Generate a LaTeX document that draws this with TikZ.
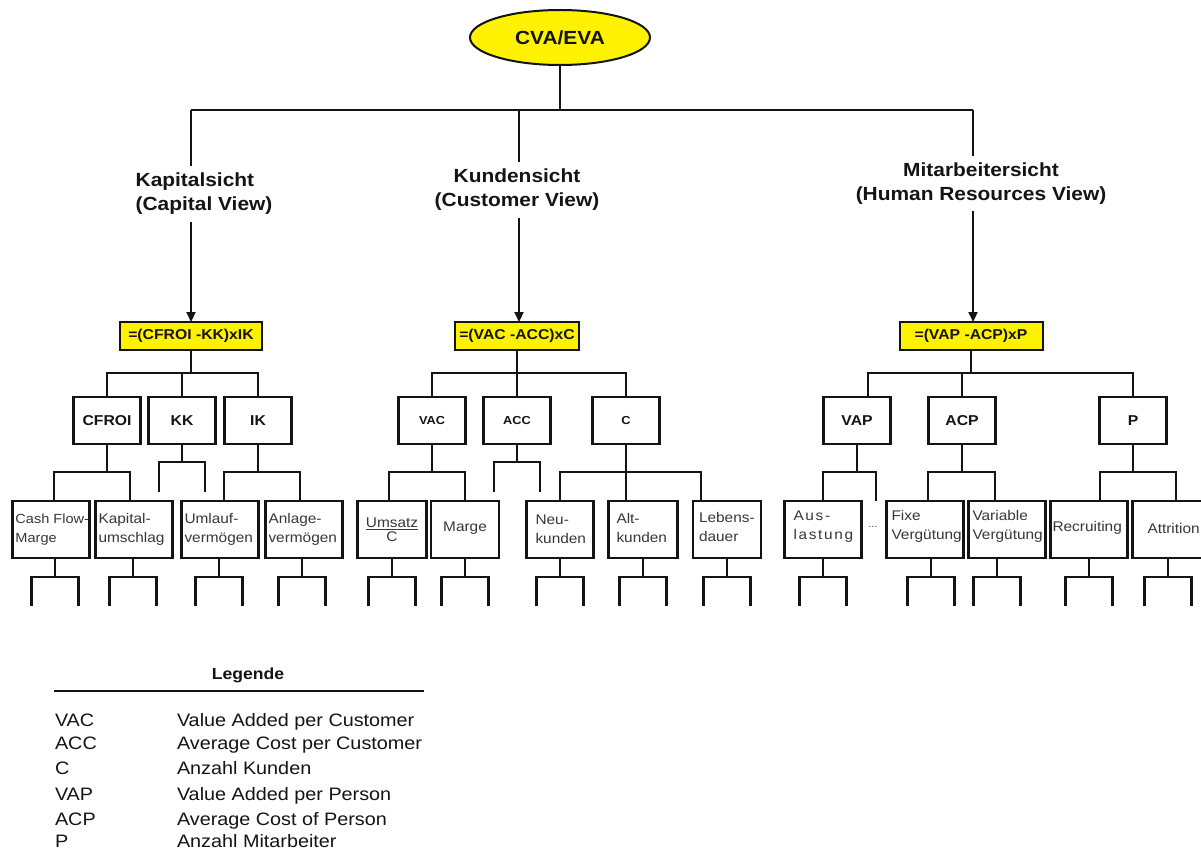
\documentclass[tikz,border=0pt]{standalone}
\usepackage{fontspec}
\setmainfont{Liberation Sans}[FakeStretch=1.1]
\usetikzlibrary{arrows.meta,shapes.geometric}

\definecolor{hlyellow}{RGB}{255,242,0}
\definecolor{ink}{RGB}{20,20,20}
\definecolor{leafink}{RGB}{55,55,55}

\newcommand\setfs[2]{\fontsize{#1}{#2}\selectfont}
% open fork hanging below a node: stem, bar and two open legs
\newcommand\openstub[2][0]{\draw[link] ([xshift=#1pt]#2.south) -- ++(0,19) ++(-23.5,29) -- ++(0,-29) -- ++(47,0) -- ++(0,29);}
\newcommand\openpair[1]{\draw[link] (#1.south) -- ++(0,18) ++(-23,30) -- ++(0,-30) -- ++(46,0) -- ++(0,30);}

\begin{document}
\begin{tikzpicture}[x=1pt,y=-1pt,
  every node/.style={inner sep=0pt, outer sep=0pt, text=ink},
  link/.style={draw=ink, line width=2.2pt, line join=miter},
  arrowline/.style={link, -{Triangle[length=10pt,width=9pt]}},
  rootnode/.style={ellipse, draw=ink, line width=2pt, fill=hlyellow, minimum width=180pt, minimum height=55pt, font=\setfs{19}{22}\bfseries},
  view/.style={inner ysep=7pt, font=\setfs{19}{24}\bfseries},
  formula/.style={draw=ink, fill=hlyellow, line width=2pt, minimum height=28pt, font=\setfs{14.3}{16}\bfseries},
  catbox/.style={draw=ink, line width=2.2pt, minimum width=67pt, minimum height=47pt, font=\setfs{14.3}{16}\bfseries},
  smallcat/.style={catbox, font=\setfs{11.6}{14}\bfseries},
  leaf/.style={draw=ink, line width=2.2pt, minimum width=77pt, minimum height=57pt},
  leaftext/.style={anchor=west, align=left, text=leafink, font=\setfs{14}{19}},
  legtext/.style={anchor=base west, font=\setfs{18}{20}},
]
\useasboundingbox (0,0) rectangle (1201,850);
\fill[white] (0,0) rectangle (1201,850);

% ---------- root and the three views ----------
\node[rootnode] (root) at (560,37.5) {CVA/EVA};
\coordinate (bar) at (560,110);
\coordinate (jl) at (191,110);
\coordinate (jm) at (519,110);
\coordinate (jr) at (973,110);
\draw[link] (root.south) -- (bar);
\draw[link] (jl) -- (jr);

\node[view, align=left]   (kap)  at (204,194)   {Kapitalsicht\\(Capital View)};
\node[view, align=center] (kun)  at (517,190)   {Kundensicht\\(Customer View)};
\node[view, align=center] (mit)  at (981,183.5) {Mitarbeitersicht\\(Human Resources View)};

\node[formula, minimum width=142pt] (f1) at (191,336) {=(CFROI -KK)xIK};
\node[formula, minimum width=124pt] (f2) at (517,336) {=(VAC -ACC)xC};
\node[formula, minimum width=143pt] (f3) at (971,336) {=(VAP -ACP)xP};

\draw[link] (jl) -- (jl |- kap.north);
\draw[link] (jm) -- (jm |- kun.north);
\draw[link] (jr) -- (jr |- mit.north);
\draw[arrowline] (jl |- kap.south) -- (f1.north -| jl);
\draw[arrowline] (jm |- kun.south) -- (f2.north -| jm);
\draw[arrowline] (jr |- mit.south) -- (f3.north -| jr);

% ---------- second level ----------
\node[catbox]   (cfroi) at (107,420.5) {CFROI};
\node[catbox]   (kk)    at (182,420.5) {KK};
\node[catbox]   (ik)    at (258,420.5) {IK};
\node[smallcat] (vac)   at (432,420.5) {VAC};
\node[smallcat] (acc)   at (517,420.5) {ACC};
\node[smallcat] (cc)    at (626,420.5) {C};
\node[catbox]   (vap)   at (857,420.5) {VAP};
\node[catbox]   (acp)   at (962,420.5) {ACP};
\node[catbox]   (pp)    at (1133,420.5) {P};

\draw[link] (f1.south) -- ++(0,23);
\draw[link] (cfroi.north) -- ++(0,-24) -| (ik.north);
\draw[link] (kk.north) -- ++(0,-24);

\draw[link] (f2.south) -- ++(0,23);
\draw[link] (vac.north) -- ++(0,-24) -| (cc.north);
\draw[link] (acc.north) -- ++(0,-24);

\draw[link] (f3.south) -- ++(0,23);
\draw[link] ([xshift=11pt]vap.north) -- ++(0,-24) -| (pp.north);
\draw[link] (acp.north) -- ++(0,-24);

% ---------- third level ----------
\node[leaf] (cash)   at (51,529.5) {};
\node[leaf] (kapu)   at (134,529.5) {};
\node[leaf] (umlauf) at (220,529.5) {};
\node[leaf] (anlage) at (304,529.5) {};
\node[leaf, minimum width=69pt] (umsatz) at (392,529.5) {};
\node[leaf, minimum width=68pt] (marge)  at (465,529.5) {};
\node[leaf, minimum width=67pt] (neu)    at (560,529.5) {};
\node[leaf, minimum width=69pt] (alt)    at (643,529.5) {};
\node[leaf, minimum width=68pt] (lebens) at (727,529.5) {};
\node[leaf] (aus)      at (823,529.5) {};
\node[leaf] (fixe)     at (925,529.5) {};
\node[leaf] (variable) at (1007,529.5) {};
\node[leaf] (recr)     at (1089,529.5) {};
\node[leaf] (attr)     at (1171,529.5) {};

\node[leaftext, font=\setfs{13.2}{19}] at ([xshift=3pt]cash.west) {Cash Flow-\\Marge};
\node[leaftext] at ([xshift=3pt]kapu.west)   {Kapital-\\umschlag};
\node[leaftext] at ([xshift=3pt]umlauf.west) {Umlauf-\\vermögen};
\node[leaftext] at ([xshift=3pt]anlage.west) {Anlage-\\vermögen};
\node[align=center, text=leafink, font=\setfs{14}{14}] at (392,530) {\underline{Umsatz}\\C};
\node[text=leafink, font=\setfs{14}{19}] at (465,528) {Marge};
\node[leaftext] at ([xshift=9pt,yshift=0.5pt]neu.west) {Neu-\\kunden};
\node[leaftext] at ([xshift=8pt,yshift=1.5pt]alt.west) {Alt-\\kunden};
\node[leaftext] at ([xshift=6pt,yshift=3pt]lebens.west) {Lebens-\\dauer};
\node[leaftext] at ([xshift=9pt,yshift=3pt]aus.west) {\addfontfeature{LetterSpace=12}Aus-\\\addfontfeature{LetterSpace=12}lastung};
\node[leaftext] at ([xshift=5pt,yshift=3pt]fixe.west) {Fixe\\Vergütung};
\node[leaftext] at ([xshift=4pt,yshift=3pt]variable.west) {Variable\\Vergütung};
\node[leaftext] at ([xshift=2pt,yshift=1.5pt]recr.west) {Recruiting};
\node[leaftext] at ([xshift=15pt,yshift=1.5pt]attr.west) {Attrition};
\node[text=leafink, font=\setfs{10}{12}] (dots) at (873,527) {...};

% forks from the second level down to the third
\draw[link] (cfroi.south) -- ++(0,28);
\draw[link] ([xshift=3pt]cash.north) -- ++(0,-29) -| ([xshift=-4pt]kapu.north);
\draw[link] (ik.south) -- ++(0,28);
\draw[link] ([xshift=4pt]umlauf.north) -- ++(0,-29) -| ([xshift=-4pt]anlage.north);
\openpair{kk}

\draw[link] (vac.south) -- ++(0,28);
\draw[link] ([xshift=-3pt]umsatz.north) -- ++(0,-29) -| (marge.north);
\openpair{acc}
\draw[link] (cc.south) -- ([xshift=-17pt]alt.north);
\draw[link] (neu.north) -- ++(0,-29) -| ([xshift=-26pt]lebens.north);

\draw[link] (vap.south) -- ++(0,28);
\draw[link] (aus.north) -- ++(0,-29) -- ++(53,0) -- ++(0,29);
\draw[link] (acp.south) -- ++(0,28);
\draw[link] ([xshift=3pt]fixe.north) -- ++(0,-29) -| ([xshift=-12pt]variable.north);
\draw[link] (pp.south) -- ++(0,28);
\draw[link] ([xshift=11pt]recr.north) -- ++(0,-29) -| ([xshift=5pt]attr.north);

% open forks below the third level
\openstub[4]{cash}
\openstub[-1]{kapu}
\openstub[-1]{umlauf}
\openstub[-2]{anlage}
\openstub{umsatz}
\openstub{marge}
\openstub{neu}
\openstub{alt}
\openstub{lebens}
\openstub{aus}
\openstub[6]{fixe}
\openstub[-10]{variable}
\openstub{recr}
\openstub[-3]{attr}

% ---------- legend ----------
\node[anchor=base, font=\setfs{16}{18}\bfseries] (leghead) at (248,679) {Legende};
\coordinate (rulel) at (54,691);
\coordinate (ruler) at (424,691);
\draw[draw=ink, line width=1.8pt] (rulel) -- (ruler);
\node[legtext] (a1) at (55,726.5) {VAC};  \node[legtext] (d1) at (177,726.5) {Value Added per Customer};
\node[legtext] (a2) at (55,749.5) {ACC};  \node[legtext] (d2) at (177,749.5) {Average Cost per Customer};
\node[legtext] (a3) at (55,774)   {C};    \node[legtext] (d3) at (177,774)   {Anzahl Kunden};
\node[legtext] (a4) at (55,800.5) {VAP};  \node[legtext] (d4) at (177,800.5) {Value Added per Person};
\node[legtext] (a5) at (55,825)   {ACP};  \node[legtext] (d5) at (177,825)   {Average Cost of Person};
\node[legtext] (a6) at (55,847)   {P};    \node[legtext] (d6) at (177,847)   {Anzahl Mitarbeiter};
\end{tikzpicture}
\end{document}
